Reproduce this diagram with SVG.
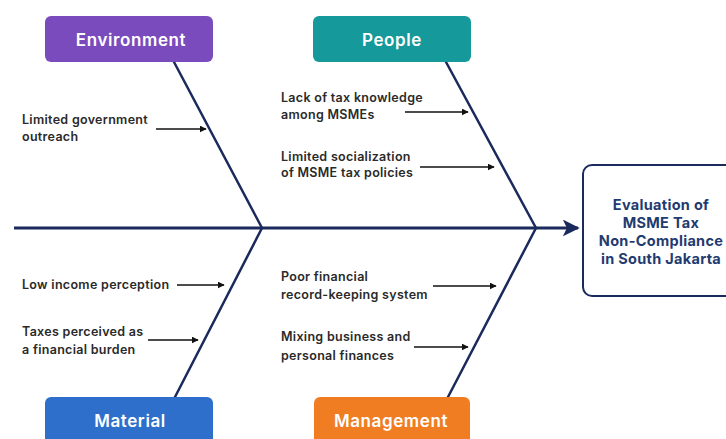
<svg xmlns="http://www.w3.org/2000/svg" width="726" height="439" viewBox="0 0 726 439">
  <defs>
    <marker id="head-small" viewBox="0 0 10 10" refX="9" refY="5" markerWidth="7" markerHeight="7" markerUnits="userSpaceOnUse" orient="auto">
      <path d="M0,0 L10,5 L0,10 z" fill="#111"/>
    </marker>
    <marker id="head-spine" viewBox="0 0 10 10" refX="9" refY="5" markerWidth="17" markerHeight="17" markerUnits="userSpaceOnUse" orient="auto">
      <path d="M0,0 L10,5 L0,10 L2.5,5 z" fill="#1b2a5c"/>
    </marker>
    <style>
      .cat { stroke: none; }
      .cat-text { font-family: Inter, "Liberation Sans", sans-serif; font-size: 17px; font-weight: 600; letter-spacing: 0.6px; fill: #ffffff; text-anchor: middle; }
      .cause { font-family: Inter, "Liberation Sans", sans-serif; font-size: 12.5px; font-weight: 600; letter-spacing: 0.3px; fill: #2a2a2a; }
      .bone { stroke: #1b2a5c; stroke-width: 2.5; fill: none; stroke-linecap: round; }
      .spine { stroke: #1b2a5c; stroke-width: 3; fill: none; }
      .small { stroke: #111; stroke-width: 1.5; fill: none; marker-end: url(#head-small); }
      .effect-box { fill: #ffffff; stroke: #1b2a5c; stroke-width: 2; }
      .effect-text { font-family: Inter, "Liberation Sans", sans-serif; font-size: 14.5px; font-weight: 700; letter-spacing: 0.3px; fill: #1f3b70; text-anchor: middle; }
    </style>
  </defs>

  <rect width="726" height="439" fill="#ffffff"/>

  <!-- spine and category bones -->
  <g id="connectors">
    <line class="spine" x1="14" y1="228" x2="578" y2="228" marker-end="url(#head-spine)"/>
    <line class="bone" x1="174" y1="62" x2="262" y2="228"/>
    <line class="bone" x1="175" y1="397" x2="262" y2="228"/>
    <line class="bone" x1="446" y1="62" x2="536" y2="228"/>
    <line class="bone" x1="448" y1="397" x2="536" y2="228"/>

    <line class="small" x1="156" y1="129" x2="206" y2="129"/>
    <line class="small" x1="405" y1="112" x2="468" y2="112"/>
    <line class="small" x1="420" y1="167" x2="494" y2="167"/>
    <line class="small" x1="177" y1="285" x2="224" y2="285"/>
    <line class="small" x1="148" y1="340" x2="198" y2="340"/>
    <line class="small" x1="433" y1="286" x2="496" y2="286"/>
    <line class="small" x1="414" y1="347" x2="468" y2="347"/>
  </g>

  <g id="environment">
    <rect class="cat" x="45" y="16" width="168" height="46" rx="6" fill="#7a4bbd"/>
    <text class="cat-text" x="131" y="46">Environment</text>
  </g>

  <g id="people">
    <rect class="cat" x="313" y="16" width="158" height="46" rx="6" fill="#16999a"/>
    <text class="cat-text" x="392" y="46">People</text>
  </g>

  <g id="material">
    <rect class="cat" x="45" y="397" width="168" height="48" rx="6" fill="#2d6fcb"/>
    <text class="cat-text" x="130" y="427">Material</text>
  </g>

  <g id="management">
    <rect class="cat" x="314" y="397" width="156" height="48" rx="6" fill="#f07d22"/>
    <text class="cat-text" x="391" y="427">Management</text>
  </g>

  <g id="effect">
    <rect class="effect-box" x="583" y="165" width="160" height="131" rx="9"/>
    <text class="effect-text" x="661" y="210">Evaluation of</text>
    <text class="effect-text" x="661" y="228">MSME Tax</text>
    <text class="effect-text" x="661" y="246">Non-Compliance</text>
    <text class="effect-text" x="661" y="264">in South Jakarta</text>
  </g>

  <g id="cause-outreach">
    <text class="cause" x="22" y="124">Limited government</text>
    <text class="cause" x="22" y="141">outreach</text>
  </g>
  <g id="cause-knowledge">
    <text class="cause" x="281" y="102">Lack of tax knowledge</text>
    <text class="cause" x="281" y="119">among MSMEs</text>
  </g>
  <g id="cause-socialization">
    <text class="cause" x="281" y="161">Limited socialization</text>
    <text class="cause" x="281" y="177">of MSME tax policies</text>
  </g>
  <g id="cause-income">
    <text class="cause" x="22" y="289">Low income perception</text>
  </g>
  <g id="cause-burden">
    <text class="cause" x="22" y="336">Taxes perceived as</text>
    <text class="cause" x="22" y="354">a financial burden</text>
  </g>
  <g id="cause-records">
    <text class="cause" x="281" y="281">Poor financial</text>
    <text class="cause" x="281" y="299">record-keeping system</text>
  </g>
  <g id="cause-mixing">
    <text class="cause" x="281" y="341">Mixing business and</text>
    <text class="cause" x="281" y="360">personal finances</text>
  </g>
</svg>
